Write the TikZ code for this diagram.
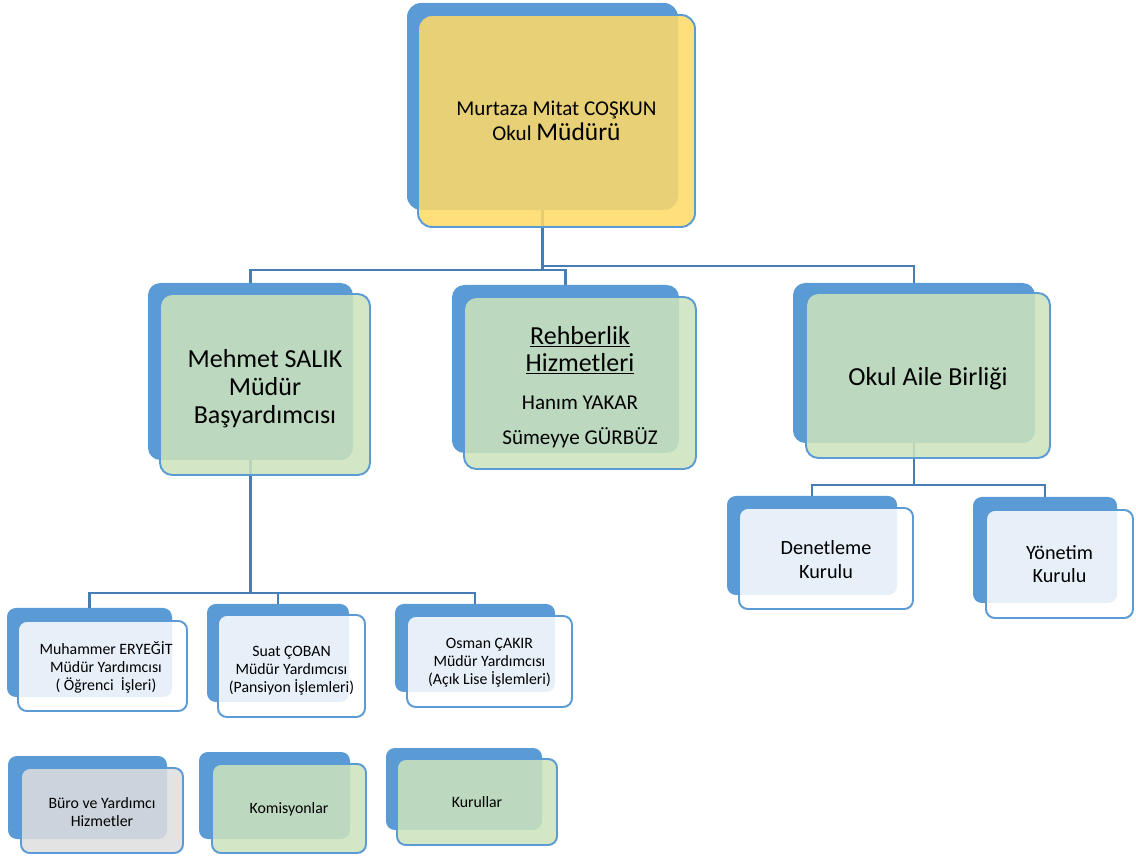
\documentclass[tikz,border=0pt]{standalone}
\usepackage{fontspec}
\setmainfont{Carlito}
\usetikzlibrary{fit}

\definecolor{panelblue}{RGB}{91,155,213}
\definecolor{linkblue}{RGB}{70,125,182}
\definecolor{headyellow}{RGB}{255,217,102}
\definecolor{staffgreen}{RGB}{205,227,188}
\definecolor{officegray}{RGB}{222,222,222}

\begin{document}
\begin{tikzpicture}
  [x=0.02cm, y=-0.02cm,
   backpanel/.style = {fill=panelblue, inner sep=0pt, rounded corners=#1},
   backpanel/.default = 5pt,
   frontpanel/.style = {draw=panelblue, line width=1.1pt, fill=#1, fill opacity=0.86,
                        inner sep=0pt},
   caption/.style = {align=center, inner sep=0pt},
   bigname/.style = {caption, font=\fontsize{14.8}{16.1}\selectfont},
   midname/.style = {caption, font=\fontsize{11.5}{13.2}\selectfont},
   smallname/.style = {caption, font=\fontsize{9}{10.2}\selectfont},
   link/.style = {draw=linkblue, line width=1.3pt}]

\useasboundingbox (0,0) rectangle (1136,857);

% Back panels
\node[backpanel=8pt, fit={(407,3) (678,210)}] (bossB) {};
\node[backpanel=7pt, fit={(148,283) (353,460)}] (mehmetB) {};
\node[backpanel=7pt, fit={(452,285) (679,453)}] (rehberB) {};
\node[backpanel=7pt, fit={(793,283) (1035,443)}] (veliB) {};
\node[backpanel, fit={(727,496) (897,595)}] (denetB) {};
\node[backpanel, fit={(973,497) (1117,603)}] (yonetB) {};
\node[backpanel, fit={(7,608) (172,697)}] (ogrB) {};
\node[backpanel, fit={(207,604) (349,702)}] (pansB) {};
\node[backpanel, fit={(395,604) (555,692)}] (acikB) {};
\node[backpanel, fit={(8,756) (167,839)}] (buroB) {};
\node[backpanel, fit={(199,752) (350,839)}] (komB) {};
\node[backpanel, fit={(386,748) (542,830)}] (kurB) {};

% Connectors
\coordinate (leftbar) at (0,270);
\coordinate (rightbar) at (0,266);
\coordinate (deputybar) at (0,593);
\coordinate (councilbar) at (0,485);

\draw[link] (bossB.south) -- (bossB.south |- leftbar) -| (mehmetB.north);
\draw[link] (bossB.south |- rightbar) -| (veliB.north);
\draw[link] (bossB.south |- leftbar) -| (rehberB.north);

\draw[link] (mehmetB.south) -- (mehmetB.south |- deputybar) -| (ogrB.north);
\draw[link] (mehmetB.south |- deputybar) -| (pansB.north);
\draw[link] (mehmetB.south |- deputybar) -| (acikB.north);

\draw[link] (veliB.south) -- (veliB.south |- councilbar) -| (denetB.north);
\draw[link] (veliB.south |- councilbar) -| (yonetB.north);

% Front panels
\node[frontpanel=headyellow, rounded corners=8pt, fit={(418,15) (695,227)}] (boss) {};
\node[frontpanel=staffgreen, rounded corners=7pt, fit={(160,294) (370,475)}] (mehmet) {};
\node[frontpanel=staffgreen, rounded corners=7pt, fit={(464,297) (696,469)}] (rehber) {};
\node[frontpanel=staffgreen, rounded corners=7pt, fit={(806,293) (1050,458)}] (veli) {};
\node[frontpanel=white, rounded corners=5pt, fit={(739,508) (913,609)}] (denet) {};
\node[frontpanel=white, rounded corners=5pt, fit={(986,510) (1133,618)}] (yonet) {};
\node[frontpanel=white, rounded corners=5pt, fit={(18,621) (187,711)}] (ogr) {};
\node[frontpanel=white, rounded corners=5pt, fit={(218,615) (365,717)}] (pans) {};
\node[frontpanel=white, rounded corners=5pt, fit={(407,616) (572,707)}] (acik) {};
\node[frontpanel=officegray, rounded corners=5pt, fit={(21,768) (183,853)}] (buro) {};
\node[frontpanel=staffgreen, rounded corners=5pt, fit={(212,764) (366,853)}] (kom) {};
\node[frontpanel=staffgreen, rounded corners=5pt, fit={(397,759) (557,845)}] (kur) {};

% Captions
\node[caption, font=\fontsize{12}{14.2}\selectfont] (bossT) at (boss.center)
  {Murtaza Mitat COŞKUN\\ Okul {\fontsize{14.5}{14.2}\selectfont Müdürü}};
\node[bigname] (mehmetT) at ([yshift=-2.3pt]mehmet.center)
  {Mehmet SALIK\\ Müdür\\ Başyardımcısı};
\node[caption, font=\fontsize{14.8}{15.3}\selectfont] (rehberT) at ([yshift=-2.3pt]rehber.center)
  {\underline{Rehberlik}\\ \underline{Hizmetleri}\\[6.6pt]
   {\fontsize{12}{15.3}\selectfont Hanım YAKAR}\\[4.6pt]
   {\fontsize{12}{15.3}\selectfont Sümeyye GÜRBÜZ}};
\node[bigname] (veliT) at ([yshift=-1.7pt]veli.center) {Okul Aile Birliği};

\node[midname] (denetT) at ([yshift=-0.6pt]denet.center) {Denetleme\\ Kurulu};
\node[midname] (yonetT) at (yonet.center) {Yönetim\\ Kurulu};

\node[smallname] (ogrT) at ([xshift=2pt, yshift=-1pt]ogr.center)
  {Muhammer ERYEĞİT\\ Müdür Yardımcısı\\ ( Öğrenci\ \ İşleri)};
\node[smallname] (pansT) at ([yshift=-2.5pt]pans.center)
  {Suat ÇOBAN\\ Müdür Yardımcısı\\ (Pansiyon İşlemleri)};
\node[smallname] (acikT) at ([yshift=-0.8pt]acik.center)
  {Osman ÇAKIR\\ Müdür Yardımcısı\\ (Açık Lise İşlemleri)};

\node[smallname] (buroT) at ([yshift=-0.8pt]buro.center) {Büro ve Yardımcı\\ Hizmetler};
\node[smallname] (komT) at ([yshift=-0.6pt]kom.center) {Komisyonlar};
\node[smallname] (kurT) at (kur.center) {Kurullar};

\end{tikzpicture}
\end{document}
